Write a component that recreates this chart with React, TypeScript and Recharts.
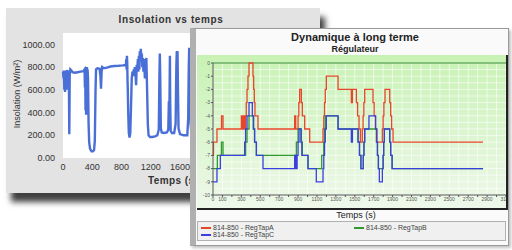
import { LineChart, Line, XAxis, YAxis, CartesianGrid, ReferenceLine } from 'recharts';

// Back window: insolation (W/m²) against time (s)
const insolT = [
  0, 8, 12, 18, 22, 28, 32, 38, 42, 50, 55, 62, 68, 75, 80, 86, 92, 100, 115, 130, 160, 200, 240, 280,
  295, 300, 304, 308, 312, 316, 320, 324, 328, 332, 336, 342, 350, 358, 370, 390, 410, 425, 435, 445,
  452, 470, 500, 512, 520, 528, 535, 560, 600, 650, 700, 760, 820, 860, 866, 870, 874, 878, 882, 886,
  892, 900, 910, 920, 930, 940, 950, 960, 968, 975, 982, 990, 1000, 1008, 1016, 1024, 1030, 1038, 1045,
  1050, 1058, 1064, 1070, 1078, 1085, 1092, 1100, 1108, 1120, 1130, 1140, 1150, 1160, 1170, 1190, 1220,
  1260, 1290, 1310, 1318, 1324, 1330, 1338, 1350, 1380, 1420, 1440, 1448, 1452, 1458, 1462, 1466, 1472,
  1490, 1520, 1540, 1550, 1556, 1562, 1566, 1572, 1580, 1600, 1650, 1700, 1712, 1720, 1726, 1735, 1745,
  1760, 1800,
];
const insolV = [
  760, 700, 770, 600, 760, 580, 770, 640, 760, 600, 775, 690, 770, 600, 750, 210, 740, 780, 770, 755,
  750, 755, 760, 765, 780, 620, 790, 420, 800, 380, 790, 500, 800, 400, 780, 700, 300, 140, 80, 60, 60,
  70, 150, 600, 780, 790, 785, 720, 610, 760, 800, 790, 795, 805, 810, 812, 815, 820, 870, 780, 900,
  850, 700, 600, 400, 220, 180, 220, 450, 700, 760, 740, 780, 720, 800, 760, 640, 820, 780, 870, 760,
  900, 780, 940, 850, 960, 880, 920, 800, 880, 760, 870, 700, 860, 880, 600, 300, 200, 185, 185, 190,
  200, 250, 700, 920, 700, 260, 225, 220, 225, 250, 500, 260, 600, 900, 500, 240, 220, 220, 300, 800,
  940, 900, 940, 600, 260, 210, 200, 200, 350, 800, 970, 800, 300, 200, 210,
];
const insolXTicks = [0, 400, 800, 1200, 1600, 2000, 2400, 2800, 3200];
const insolYTicks = [0, 200, 400, 600, 800, 1000];

// Front window: regulator taps (step changes)
const tapTimeA = [
  0, 5, 42, 90, 106, 300, 310, 322, 335, 345, 352, 360, 370, 381, 423, 430, 437, 444, 476, 864, 875,
  900, 908, 917, 935, 945, 955, 970, 1023, 1164, 1172, 1180, 1188, 1199, 1323, 1464, 1475, 1517, 1530,
  1545, 1560, 1580, 1588, 1596, 1605, 1693, 1705, 1718, 1735, 1792, 1800, 1808, 1820, 1870, 1880, 1890,
  1905, 2857,
];
const tapA = [
  -7, -6, -5, -4, -5, -4, -5, -4, -5, -4, -3, -2, -1, 0, -1, -2, -3, -4, -5, -4, -5, -4, -3, -2, -3, -4,
  -4, -5, -6, -5, -4, -3, -2, -1, -2, -3, -2, -3, -4, -5, -6, -5, -4, -3, -2, -3, -4, -5, -6, -5, -4,
  -3, -2, -3, -4, -5, -6, -6,
];
const tapTimeB = [
  0, 46, 89, 106, 345, 360, 381, 425, 440, 459, 882, 900, 917, 935, 945, 1005, 1150, 1164, 1172, 1180,
  1188, 1199, 1323, 1535, 1550, 1565, 1590, 1597, 1605, 1730, 1740, 1750, 1792, 1800, 1806, 1813, 1870,
  1880, 1895, 2857,
];
const tapB = [
  -8, -7, -6, -7, -6, -5, -4, -5, -6, -7, -6, -5, -5, -6, -7, -8, -7, -7, -6, -5, -4, -4, -5, -6, -7,
  -8, -7, -6, -5, -6, -7, -8, -8, -7, -6, -5, -6, -7, -8, -8,
];
const tapTimeC = [
  0, 42, 78, 335, 345, 360, 381, 416, 430, 440, 459, 529, 864, 868, 872, 876, 880, 884, 890, 900, 910,
  917, 930, 940, 1005, 1093, 1164, 1172, 1180, 1188, 1199, 1323, 1464, 1475, 1535, 1550, 1565, 1590,
  1597, 1605, 1650, 1721, 1730, 1740, 1750, 1760, 1792, 1800, 1806, 1813, 1870, 1880, 1895, 2857,
];
const tapC = [
  -9, -8, -7, -6, -5, -4, -3, -4, -5, -6, -7, -8, -7, -8, -7, -8, -7, -8, -7, -6, -5, -5, -6, -7, -8,
  -9, -8, -7, -6, -5, -4, -5, -6, -5, -6, -7, -8, -7, -6, -5, -4, -5, -6, -7, -8, -9, -8, -7, -6, -5,
  -6, -7, -8, -8,
];
const tapXTicks = [
  0, 100, 200, 300, 400, 500, 600, 700, 800, 900, 1000, 1100, 1200, 1300, 1400, 1500, 1600, 1700, 1800,
  1900, 2000, 2100, 2200, 2300, 2400, 2500, 2600, 2700, 2800, 2900, 3000, 3100,
];
const tapYTicks = [0, -1, -2, -3, -4, -5, -6, -7, -8, -9, -10];
const tapGridY = [
  0, -0.5, -1, -1.5, -2, -2.5, -3, -3.5, -4, -4.5, -5, -5.5, -6, -6.5, -7, -7.5, -8, -8.5, -9, -9.5, -10,
];
const seriesNames = ['814-850 - RegTapA', '814-850 - RegTapB', '814-850 - RegTapC'];
const seriesColors = ['#e8462a', '#2f9b2f', '#3b3fe0'];

const insolData = insolT.map((t, i) => ({ t, v: insolV[i] }));
const tapSeries = [
  tapTimeA.map((t, i) => ({ t, v: tapA[i] })),
  tapTimeB.map((t, i) => ({ t, v: tapB[i] })),
  tapTimeC.map((t, i) => ({ t, v: tapC[i] })),
];

const FONT = '"Liberation Sans", Arial, sans-serif';

function BackWindow() {
  return (
    <div
      style={{
        position: 'absolute',
        left: 6,
        top: 8,
        width: 314,
        height: 185,
        background: '#e3e3e3',
        boxShadow: '5px 9px 6px rgba(0,0,0,0.75)',
        fontFamily: FONT,
      }}
    >
      <div
        style={{
          position: 'absolute',
          left: 65,
          top: 7,
          width: 200,
          textAlign: 'center',
          fontSize: 10,
          fontWeight: 700,
          letterSpacing: 0.6,
          color: '#333',
          lineHeight: '10px',
        }}
      >
        Insolation vs temps
      </div>
      <div
        style={{
          position: 'absolute',
          left: 11,
          top: 86,
          transform: 'translate(-50%, -50%) rotate(-90deg)',
          whiteSpace: 'nowrap',
          fontSize: 9,
          color: '#333',
        }}
      >
        Insolation (W/m²)
      </div>
      <div
        style={{
          position: 'absolute',
          left: 142,
          top: 168,
          fontSize: 10,
          fontWeight: 700,
          letterSpacing: 0.4,
          color: '#333',
          lineHeight: '10px',
          whiteSpace: 'nowrap',
        }}
      >
        Temps (s)
      </div>
      <div style={{ position: 'absolute', left: 0, top: 0 }}>
        <LineChart width={314} height={185} data={insolData} margin={{ top: 25, right: 23, bottom: 15, left: 0 }}>
          <CartesianGrid horizontal={false} vertical={false} fill="#ffffff" />
          <XAxis
            dataKey="t"
            type="number"
            domain={[0, 3200]}
            ticks={insolXTicks}
            height={20}
            axisLine={false}
            tickLine={false}
            tickSize={4}
            tick={{ fontSize: 9, fill: '#333' }}
            interval={0}
          />
          <YAxis
            type="number"
            domain={[0, 1100]}
            ticks={insolYTicks}
            width={57}
            axisLine={false}
            tickLine={false}
            tick={{ fontSize: 9, fill: '#333' }}
            tickFormatter={(v: number) => v.toFixed(2)}
            interval={0}
          />
          <Line
            type="linear"
            dataKey="v"
            stroke="#4a6fd6"
            strokeWidth={2.4}
            dot={false}
            isAnimationActive={false}
          />
        </LineChart>
      </div>
    </div>
  );
}

function FrontWindow() {
  return (
    <div
      style={{
        position: 'absolute',
        left: 190,
        top: 28,
        width: 312,
        height: 216,
        background: '#fafafa',
        border: '1px solid #9a9a9a',
        borderLeft: '6px solid #b0b0b0',
        boxShadow: '2px 2px 3px rgba(0,0,0,0.25)',
        fontFamily: FONT,
        overflow: 'hidden',
      }}
    >
      <div
        style={{
          position: 'absolute',
          left: 0,
          top: 3,
          width: 318,
          textAlign: 'center',
          fontSize: 11,
          fontWeight: 700,
          color: '#222',
          lineHeight: '11px',
        }}
      >
        Dynamique à long terme
      </div>
      <div
        style={{
          position: 'absolute',
          left: 0,
          top: 16,
          width: 318,
          textAlign: 'center',
          fontSize: 9,
          fontWeight: 700,
          color: '#222',
          lineHeight: '9px',
        }}
      >
        Régulateur
      </div>

      {/* green chart panel */}
      <div
        style={{
          position: 'absolute',
          left: 1,
          top: 26,
          width: 309,
          height: 153,
          background: 'linear-gradient(#c8f2b4, #eef8ea)',
          borderRight: '2px solid #222',
          borderBottom: '2px solid #222',
        }}
      >
        <LineChart width={309} height={153} margin={{ top: 8, right: 0, bottom: 0, left: 0 }} style={{ overflow: 'visible' }}>
          <CartesianGrid stroke="#ffffff" strokeOpacity={0.6} horizontalValues={tapGridY} />
          <XAxis
            dataKey="t"
            type="number"
            domain={[0, 3100]}
            ticks={tapXTicks}
            interval={0}
            height={13}
            tickSize={2}
            tickMargin={0}
            stroke="#555"
            tick={{ fontSize: 5, fill: '#555' }}
            tickFormatter={(v: number) => (v === 0 || (v / 100) % 2 === 1 ? String(v) : '')}
          />
          <YAxis
            type="number"
            domain={[-10, 0]}
            ticks={tapYTicks}
            interval={0}
            width={16}
            tickSize={2}
            tickMargin={1}
            stroke="#555"
            tick={{ fontSize: 5, fill: '#555' }}
          />
          <ReferenceLine y={0} stroke="#2f8a2f" strokeWidth={1.2} />
          {tapSeries.map((d, i) => (
            <Line
              key={seriesNames[i]}
              data={d}
              type="stepAfter"
              dataKey="v"
              name={seriesNames[i]}
              stroke={seriesColors[i]}
              strokeWidth={1.3}
              dot={false}
              isAnimationActive={false}
            />
          ))}
        </LineChart>
      </div>

      <div
        style={{
          position: 'absolute',
          left: 0,
          top: 182,
          width: 320,
          textAlign: 'center',
          fontSize: 9,
          color: '#222',
          lineHeight: '9px',
        }}
      >
        Temps (s)
      </div>

      {/* legend */}
      <div
        style={{
          position: 'absolute',
          left: 1,
          top: 192,
          width: 309,
          height: 20,
          background: '#f0f0f0',
          border: '1px solid #b0b0b0',
          boxSizing: 'border-box',
          fontSize: 7,
          color: '#444',
        }}
      >
        {seriesNames.map((name, i) => (
          <div
            key={name}
            style={{
              position: 'absolute',
              left: i === 1 ? 156 : 3,
              top: i === 2 ? 9 : 2,
              display: 'flex',
              alignItems: 'center',
              gap: 2,
              lineHeight: '7px',
              whiteSpace: 'nowrap',
            }}
          >
            <span style={{ display: 'inline-block', width: 10, height: 2, background: seriesColors[i] }} />
            <span>{name}</span>
          </div>
        ))}
      </div>
    </div>
  );
}

export default function App() {
  return (
    <div
      style={{
        position: 'absolute',
        left: 0,
        top: 0,
        width: 512,
        height: 250,
        background: '#ffffff',
        overflow: 'hidden',
      }}
    >
      <BackWindow />
      <FrontWindow />
    </div>
  );
}
